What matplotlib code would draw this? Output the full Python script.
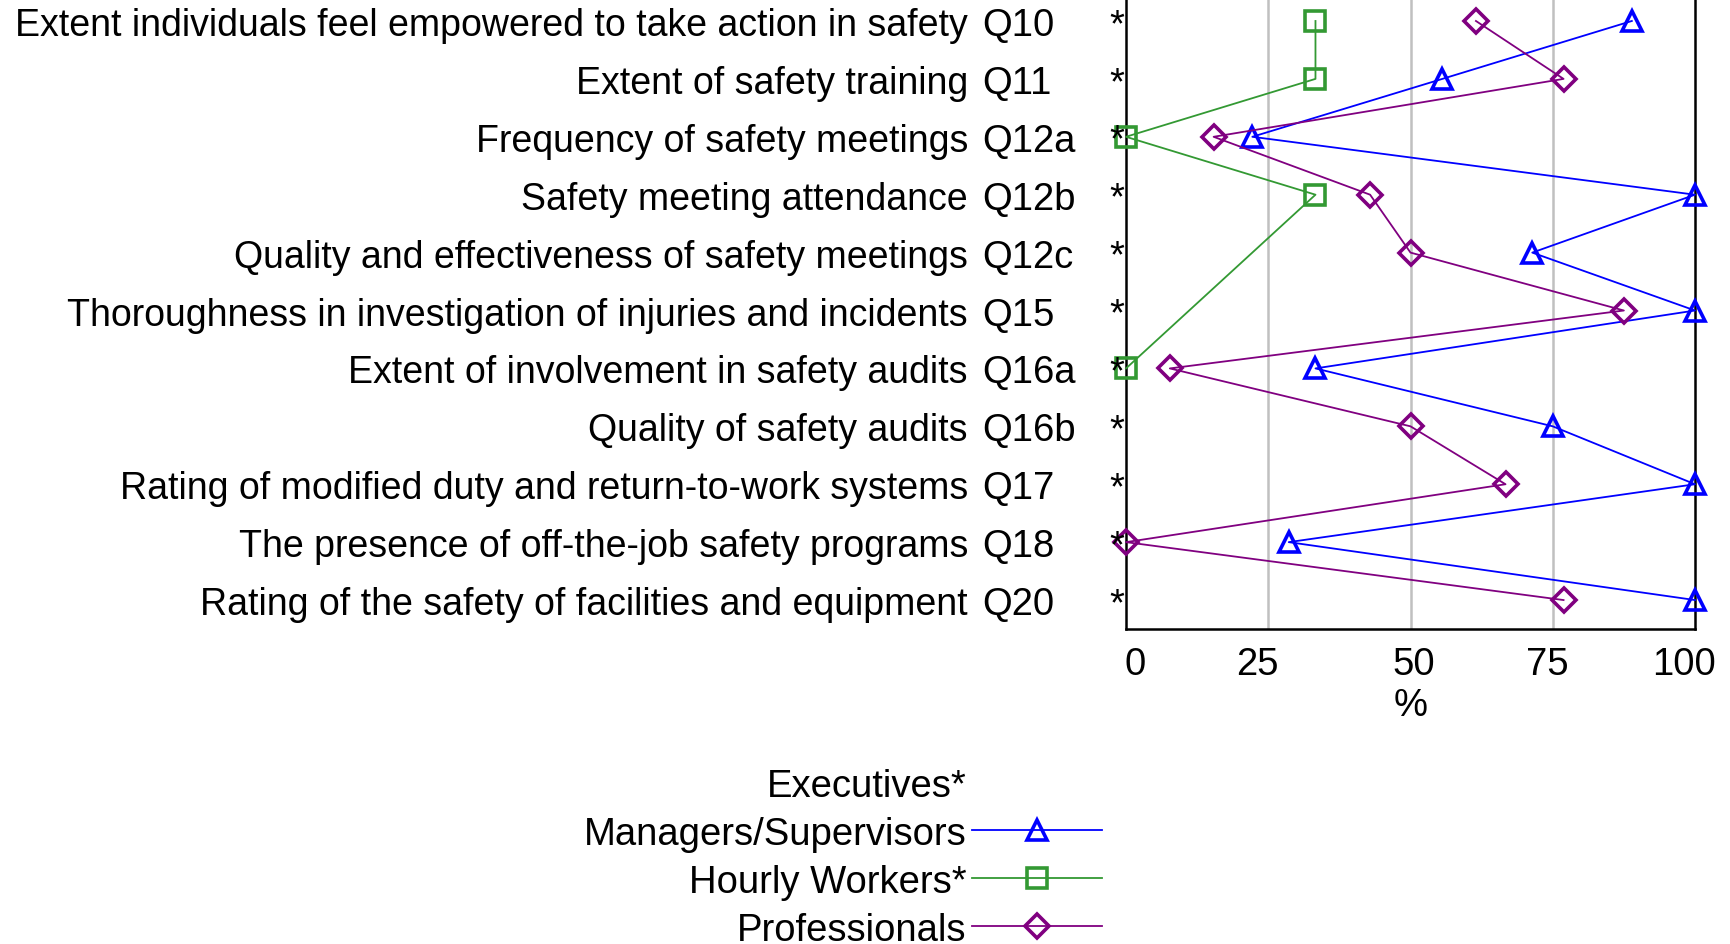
import numpy as np
import matplotlib
matplotlib.use('Agg')
import matplotlib.pyplot as plt
from matplotlib.lines import Line2D
import matplotlib.transforms as mtransforms

plt.rcParams['font.family'] = ['Liberation Sans', 'DejaVu Sans']

# 题目与编号
questions = ['Extent individuals feel empowered to take action in safety',
             'Extent of safety training',
             'Frequency of safety meetings',
             'Safety meeting attendance',
             'Quality and effectiveness of safety meetings',
             'Thoroughness in investigation of injuries and incidents',
             'Extent of involvement in safety audits',
             'Quality of safety audits',
             'Rating of modified duty and return-to-work systems',
             'The presence of off-the-job safety programs',
             'Rating of the safety of facilities and equipment']
codes = ['Q10', 'Q11', 'Q12a', 'Q12b', 'Q12c', 'Q15', 'Q16a', 'Q16b', 'Q17', 'Q18', 'Q20']
flags = ['*'] * 11

# 各组百分比
managers = [88.9, 55.6, 22.2, 100, 71.4, 100, 33.3, 75.0, 100, 28.6, 100]
hourly = [33.3, 33.3, 0, 33.3, np.nan, np.nan, 0, np.nan, np.nan, np.nan, np.nan]
professionals = [61.5, 76.9, 15.4, 42.9, 50.0, 87.5, 7.7, 50.0, 66.7, 0, 76.9]

xticks = [0, 25, 50, 75, 100]

W, H = 1731, 945
fig = plt.figure(figsize=(W / 100, H / 100), dpi=100)
ax = fig.add_axes([1126 / W, 1 - 630 / H, 569 / W, 630 / H])

y = np.arange(len(codes))
fs = 27.5


def draw_series(vals, color, marker, ms, label):
    vals = np.array(vals, dtype=float)
    ok = ~np.isnan(vals)
    ax.plot(vals[ok], y[ok], color=color, lw=1.3, marker=marker, ms=ms,
            mfc='none', mec=color, mew=2.6, label=label, clip_on=False, zorder=3)


draw_series(managers, '#0000ff', '^', 15, 'Managers/Supervisors')
draw_series(hourly, '#339933', 's', 14, 'Hourly Workers*')
draw_series(professionals, '#800080', 'D', 12, 'Professionals')

ax.set_xlim(0, 100)
ax.set_ylim(10.5, -22 / 57.96)
ax.set_xticks(xticks)
ax.set_yticks([])
ax.tick_params(axis='x', length=0, labelsize=fs, pad=12)
# 刻度标签微调位置（像素）
shifts = [9, -11, 3, -5, -11]
for lab, dx in zip(ax.get_xticklabels(), shifts):
    lab.set_transform(lab.get_transform() + mtransforms.ScaledTranslation(dx / 100, 0, fig.dpi_scale_trans))
for v in [25, 50, 75]:
    ax.axvline(v, color='#c0c0c0', lw=1.8, zorder=1)
ax.spines['top'].set_visible(False)
for s in ['left', 'right', 'bottom']:
    ax.spines[s].set_linewidth(1.8)
ax.set_xlabel('%', fontsize=fs, labelpad=4)

# 左侧标签
tr = mtransforms.blended_transform_factory(fig.transFigure, ax.transData)
for i in range(len(codes)):
    ax.text(968 / W, i, questions[i], transform=tr, ha='right', va='center_baseline', fontsize=27)
    ax.text(982 / W, i, codes[i], transform=tr, ha='left', va='center_baseline', fontsize=fs)
    ax.text(1117 / W, i, flags[i], transform=tr, ha='center', va='center_baseline', fontsize=fs)

# 图例
handles, labels = ax.get_legend_handles_labels()
blank = Line2D([], [], linestyle='none', marker=None)
leg = fig.legend([blank] + handles, ['Executives*'] + labels, loc='upper right',
                 bbox_to_anchor=(1102 / W, 1 - 769 / H), bbox_transform=fig.transFigure,
                 frameon=False, markerfirst=False, fontsize=fs, handlelength=3.4,
                 handletextpad=0.15, labelspacing=0.31, borderpad=0, borderaxespad=0)

fig.savefig('out.png', dpi=100)
